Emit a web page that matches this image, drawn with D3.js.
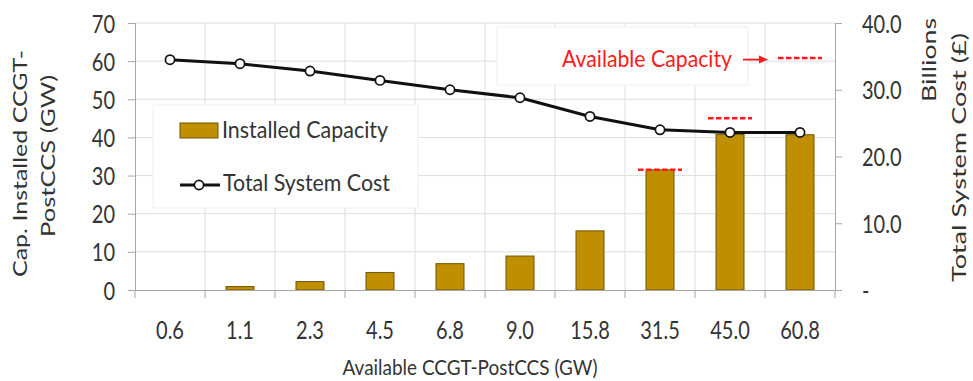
<!DOCTYPE html>
<html>
<head>
<meta charset="utf-8">
<script src="https://cdn.jsdelivr.net/npm/d3@7"></script>
<style>
  html, body { margin: 0; padding: 0; background: #fff; overflow: hidden; }
  text { font-family: Lato, "Open Sans", sans-serif; fill: #333; }
</style>
</head>
<body>
<svg id="chart" width="973" height="381"></svg>
<script>
// Available CCGT-PostCCS capacity scenarios (GW)
const categories = ["0.6", "1.1", "2.3", "4.5", "6.8", "9.0", "15.8", "31.5", "45.0", "60.8"];
// Installed CCGT-PostCCS capacity (GW), left axis
const installedGW = [0, 0.9, 2.2, 4.6, 6.9, 8.9, 15.5, 31.5, 40.8, 40.7];
// Total system cost (£ billions), right axis
const systemCostBn = [34.5, 33.9, 32.8, 31.4, 30.0, 28.8, 26.0, 24.0, 23.6, 23.6];
// Available-capacity markers drawn over the larger scenarios
const markedCategories = ["31.5", "45.0", "60.8"];
const markedAvailableGW = [31.5, 45.0, 60.8];
// Axis ticks
const leftTicks = [0, 10, 20, 30, 40, 50, 60, 70];
const rightTicks = [0, 10, 20, 30, 40];

const svg = d3.select("#chart");
const W = 973, H = 381;
svg.append("rect").attr("width", W).attr("height", H).attr("fill", "#fff");

const plot = { left: 135, right: 835, top: 23, bottom: 290 };
const x = d3.scaleBand().domain(categories).range([plot.left, plot.right]).padding(0);
const yL = d3.scaleLinear().domain([0, 70]).range([plot.bottom, plot.top]);
const yR = d3.scaleLinear().domain([0, 40]).range([plot.bottom, plot.top]);
const cx = c => x(c) + x.bandwidth() / 2;

const STRETCH = 1.22; // text is drawn slightly tall
function vstretch(sel, s = STRETCH) {
  sel.each(function () {
    const t = d3.select(this);
    const y = +t.attr("y") || 0;
    t.attr("transform", `matrix(1,0,0,${s},0,${y * (1 - s)})`);
  });
}

const gridColor = "#dedede";
const axisColor = "#a6a6a6";

// Gridlines
const grid = svg.append("g");
grid.selectAll("line.h").data(leftTicks.filter(d => d > 0)).join("line")
  .attr("x1", plot.left).attr("x2", plot.right)
  .attr("y1", d => yL(d)).attr("y2", d => yL(d))
  .attr("stroke", gridColor).attr("stroke-width", 1);
const boundaries = categories.map(c => x(c)).concat([plot.right]);
grid.selectAll("line.v").data(boundaries.slice(1, -1)).join("line")
  .attr("x1", d => d).attr("x2", d => d)
  .attr("y1", plot.top).attr("y2", plot.bottom)
  .attr("stroke", gridColor).attr("stroke-width", 1);

// Legend and annotation panels (white, over the grid)
svg.append("rect").attr("x", 153).attr("y", 105).attr("width", 265).attr("height", 103)
  .attr("fill", "#fff").attr("stroke", "#f0f0f0");
svg.append("rect").attr("x", 497).attr("y", 27).attr("width", 251).attr("height", 58)
  .attr("fill", "#fff").attr("stroke", "#f0f0f0");

// Bars: installed capacity
const barW = x.bandwidth() * 0.4;
svg.append("g").selectAll("rect").data(categories.map((c, i) => ({ c, v: installedGW[i] })).filter(d => d.v > 0))
  .join("rect")
  .attr("x", d => cx(d.c) - barW / 2)
  .attr("y", d => yL(d.v))
  .attr("width", barW)
  .attr("height", d => yL(0) - yL(d.v))
  .attr("fill", "#BF8F00")
  .attr("stroke", "#6e5400").attr("stroke-width", 1);

// Available-capacity markers (red dashes)
const markHalf = 22;
svg.append("g").selectAll("line").data(markedCategories.map((c, i) => ({ c, v: markedAvailableGW[i] })))
  .join("line")
  .attr("x1", d => cx(d.c) - markHalf).attr("x2", d => cx(d.c) + markHalf)
  .attr("y1", d => yL(d.v)).attr("y2", d => yL(d.v))
  .attr("stroke", "#ff1a1a").attr("stroke-width", 2.5).attr("stroke-dasharray", "5.5,2.5");

// Total system cost line
const costData = categories.map((c, i) => ({ c, v: systemCostBn[i] }));
svg.append("path").datum(costData)
  .attr("d", d3.line().x(d => cx(d.c)).y(d => yR(d.v)))
  .attr("fill", "none").attr("stroke", "#111").attr("stroke-width", 3).attr("stroke-linejoin", "round");
svg.append("g").selectAll("circle").data(costData).join("circle")
  .attr("cx", d => cx(d.c)).attr("cy", d => yR(d.v)).attr("r", 4.6)
  .attr("fill", "#fff").attr("stroke", "#111").attr("stroke-width", 1.7);

// Left axis
const axL = svg.append("g").attr("transform", `translate(${plot.left},0)`)
  .call(d3.axisLeft(yL).tickValues(leftTicks).tickSize(7).tickFormat(d3.format("d")));
axL.selectAll("path, line").attr("stroke", axisColor);
axL.selectAll("text").attr("x", -20).attr("y", 9).attr("dy", null)
  .attr("font-size", 20).attr("fill", "#333").attr("text-anchor", "end")
  .call(vstretch);

// Right axis
const axR = svg.append("g").attr("transform", `translate(${plot.right},0)`)
  .call(d3.axisRight(yR).tickValues(rightTicks).tickSize(7).tickFormat(d => d === 0 ? "-" : d3.format(".1f")(d)));
axR.selectAll("path, line").attr("stroke", axisColor);
axR.selectAll("text").attr("x", 27).attr("y", 9).attr("dy", null)
  .attr("font-size", 20).attr("fill", "#333").attr("text-anchor", "start")
  .call(vstretch);

// Bottom axis: category labels, ticks at category boundaries
const axB = svg.append("g").attr("transform", `translate(0,${plot.bottom})`)
  .call(d3.axisBottom(x).tickSize(0).tickSizeOuter(0));
axB.select("path").attr("stroke", axisColor);
axB.selectAll("text").attr("y", 49).attr("dy", null)
  .attr("font-size", 20).attr("fill", "#333")
  .call(vstretch);
axB.selectAll("line.bound").data(boundaries).join("line").attr("class", "bound")
  .attr("x1", d => d).attr("x2", d => d).attr("y1", 0).attr("y2", 8)
  .attr("stroke", axisColor);

// Axis titles
svg.append("text").attr("x", 470).attr("y", 375).attr("text-anchor", "middle")
  .attr("font-size", 19).attr("textLength", 255).attr("lengthAdjust", "spacingAndGlyphs")
  .text("Available CCGT-PostCCS (GW)").call(vstretch, 1.15);

function vtitle(xp, yp, len, str) {
  svg.append("text").attr("transform", `translate(${xp},${yp}) rotate(-90)`)
    .attr("text-anchor", "middle").attr("font-size", 19)
    .attr("textLength", len).attr("lengthAdjust", "spacingAndGlyphs").text(str);
}
vtitle(27, 163.5, 227, "Cap. Installed CCGT-");
vtitle(55, 156, 162, "PostCCS (GW)");
vtitle(936, 60, 84, "Billions");
vtitle(966, 157.5, 249, "Total System Cost (£)");

// Legend
svg.append("rect").attr("x", 180).attr("y", 123).attr("width", 38).attr("height", 15)
  .attr("fill", "#BF8F00").attr("stroke", "#6e5400").attr("stroke-width", 1);
svg.append("text").attr("x", 222).attr("y", 138).attr("font-size", 19)
  .attr("textLength", 166).attr("lengthAdjust", "spacingAndGlyphs")
  .text("Installed Capacity").call(vstretch);
svg.append("line").attr("x1", 180).attr("x2", 220).attr("y1", 185).attr("y2", 185)
  .attr("stroke", "#111").attr("stroke-width", 3);
svg.append("circle").attr("cx", 199).attr("cy", 185).attr("r", 4.6)
  .attr("fill", "#fff").attr("stroke", "#111").attr("stroke-width", 1.7);
svg.append("text").attr("x", 223).attr("y", 191).attr("font-size", 19)
  .attr("textLength", 167).attr("lengthAdjust", "spacingAndGlyphs")
  .text("Total System Cost").call(vstretch);

// Annotation pointing at the top available-capacity marker
const topCat = markedCategories[markedCategories.length - 1];
const topY = yL(markedAvailableGW[markedAvailableGW.length - 1]) + 1.5;
const tipX = cx(topCat) - markHalf - 10;
svg.append("line").attr("x1", tipX - 25).attr("x2", tipX - 7).attr("y1", topY).attr("y2", topY)
  .attr("stroke", "#ff1a1a").attr("stroke-width", 1.8);
svg.append("path")
  .attr("d", `M${tipX},${topY} L${tipX - 9},${topY - 4} L${tipX - 9},${topY + 4} Z`)
  .attr("fill", "#ff1a1a");
svg.append("text").attr("x", 562).attr("y", 67).attr("font-size", 19)
  .attr("textLength", 170).attr("lengthAdjust", "spacingAndGlyphs")
  .style("fill", "#ff1a1a")
  .text("Available Capacity").call(vstretch);
</script>
</body>
</html>
